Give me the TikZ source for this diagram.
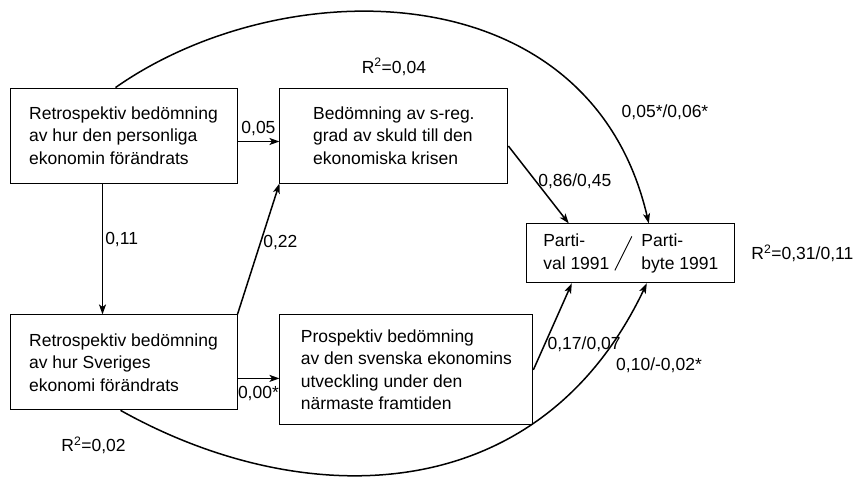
\documentclass[tikz,border=0pt]{standalone}
\usepackage{fontspec}
\setmainfont{Liberation Sans}
\usetikzlibrary{arrows.meta,positioning}
\tikzset{
    %Define standard arrow tip
    >={Stealth[length=10pt,width=7pt,inset=2.5pt]},
    %Define style for boxes
    ruta/.style={
           rectangle,
           draw=black, line width=0.9pt,
           align=left,
           minimum width=227pt,
           minimum height=95pt,
           font=\fontsize{17.5}{22.5}\selectfont},
    % Define arrow style
    pil/.style={
           ->,
           line width=1.5pt},
    % Define style for coefficients
    etikett/.style={
           font=\fontsize{17.5}{21}\selectfont,
           inner sep=2pt}
}

\begin{document}
\begin{tikzpicture}[x=1pt,y=-1pt]
  \useasboundingbox (0,0) rectangle (856,481);
  \node[ruta] (retp) at (123.5,135.5) {Retrospektiv bedömning\\av hur den personliga\\ekonomin förändrats};
  \node[ruta, minimum width=228pt] (skuld) [right=42pt of retp] {Bedömning av s-reg.\\grad av skuld till den\\ekonomiska krisen};
  \node[ruta] (rets) [below=131pt of retp] {Retrospektiv bedömning\\av hur Sveriges\\ekonomi förändrats};
  \node[ruta, minimum width=253pt, minimum height=110pt] (prosp) [right=42pt of rets.north east, anchor=north west] {Prospektiv bedömning\\av den svenska ekonomins\\utveckling under den\\närmaste framtiden};
  \node[ruta, minimum width=208pt, minimum height=59pt] (parti) [below right=40pt and 18pt of skuld.south east, anchor=north west]
    {\begin{tabular}{@{}l@{}}Parti-\\val 1991\end{tabular}\hspace{32pt}\begin{tabular}{@{}l@{}}Parti-\\byte 1991\end{tabular}};
  \draw[line width=0.9pt] ([shift={(-16pt,-17pt)}]parti.center) -- ([shift={(1pt,17pt)}]parti.center);

  % R2 values
  \node[etikett] (r2skuld) [above=10pt of skuld] {R\textsuperscript{2}=0,04};
  \node[etikett] (r2rets) [below=24pt of rets.south, xshift=-30pt] {R\textsuperscript{2}=0,02};
  \node[etikett] (r2parti) [right=14pt of parti] {R\textsuperscript{2}=0,31/0,11};

  \path[pil]
    ([yshift=-6pt]retp.east) edge node[etikett, above, yshift=3pt] {0,05} ([yshift=-6pt]skuld.west)
    ([xshift=-21pt]retp.south) edge node[etikett, right, pos=0.43] {0,11} ([xshift=-21pt]rets.north)
    (rets.north east) edge node[etikett, right, pos=0.55] {0,22} (skuld.south west)
    ([yshift=-16pt]rets.east) edge node[etikett, below, yshift=-5pt] {0,00*} ([yshift=-8.5pt]prosp.west)
    ([yshift=-10.5pt]skuld.east) edge node[etikett, right, pos=0.45] {0,86/0,45} ([xshift=-62pt]parti.north)
    (prosp.east) edge node[etikett, right, pos=0.3] {0,17/0,07} ([xshift=-59pt]parti.south);

  % long paths round the boxes
  \draw[pil] ([xshift=-8pt]retp.north) .. controls (283,-30) and (590,-30) .. ([xshift=18pt]parti.north);
  \draw[pil] ([xshift=-3pt]rets.south) .. controls (302,512) and (538,512) .. ([xshift=16pt]parti.south);
  \node[etikett] (toppar) at (665,112) {0,05*/0,06*};
  \node[etikett] (botpar) at (659,365) {0,10/-0,02*};
\end{tikzpicture}
\end{document}
